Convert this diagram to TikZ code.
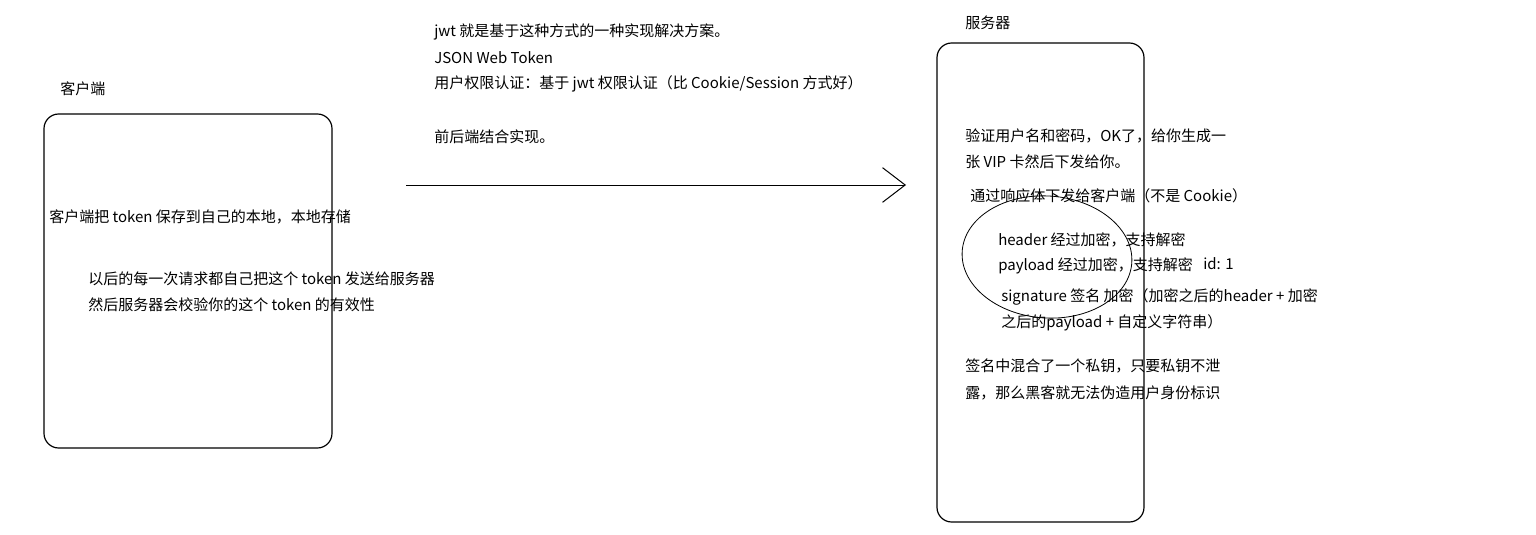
\documentclass[tikz,border=0pt]{standalone}
\usepackage{fontspec}
\setmainfont{Noto Sans CJK SC}
\usetikzlibrary{arrows.meta}

\begin{document}
\begin{tikzpicture}[x=0.75pt, y=-0.75pt, >={Straight Barb[length=17pt, width=26pt]},
    txt/.style={anchor=west, inner sep=0pt, font=\fontsize{11.25pt}{13pt}\selectfont},
    box/.style={draw, line width=0.9pt, rounded corners=11pt}]
    \useasboundingbox (0,0) rectangle (1536,535);

    % 定义坐标
    \coordinate (A) at (406,185);
    \coordinate (B) at (906,185);
    \coordinate (E) at (1047,257);

    % 客户端
    \draw[box] (44,114) rectangle (332,448);
    \node[txt] (kh) at (60,89) {客户端};
    \node[txt] (k1) at (49,217) {客户端把 token 保存到自己的本地，本地存储};
    \node[txt] (k2) at (88,279) {以后的每一次请求都自己把这个 token 发送给服务器};
    \node[txt] (k3) at (88,305) {然后服务器会校验你的这个 token 的有效性};

    % 说明文字
    \node[txt] (j1) at (434,32) {jwt 就是基于这种方式的一种实现解决方案。};
    \node[txt] (j2) at (434,58) {JSON Web Token};
    \node[txt] (j3) at (434,84) {用户权限认证：基于 jwt 权限认证（比 Cookie/Session 方式好）};
    \node[txt] (j4) at (434,137) {前后端结合实现。};

    % 箭头
    \draw[->, line width=0.75pt] (A) -- (B);

    % 服务器
    \draw[box] (937,43) rectangle (1144,522);
    \node[txt] (fw) at (965,23) {服务器};
    \node[txt] (s1) at (965,136) {验证用户名和密码，OK了，给你生成一};
    \node[txt] (s2) at (965,162) {张 VIP 卡然后下发给你。};
    \node[txt] (s3) at (970,196) {通过响应体下发给客户端（不是 Cookie）};
    \node[txt] (s4) at (998,240) {header 经过加密，支持解密};
    \node[txt] (s5) at (998,266) {payload 经过加密，支持解密};
    \node[txt] (id) at (1203,264) {id: 1};
    \node[txt] (s6) at (1001,297) {signature 签名 加密（加密之后的header + 加密};
    \node[txt] (s7) at (1001,323) {之后的payload + 自定义字符串）};
    \node[txt] (s8) at (965,366) {签名中混合了一个私钥，只要私钥不泄};
    \node[txt] (s9) at (965,393) {露，那么黑客就无法伪造用户身份标识};

    % 椭圆
    \draw[line width=0.6pt, rotate around={-4:(E)}] (E) ellipse [x radius=85, y radius=61];
\end{tikzpicture}
\end{document}
